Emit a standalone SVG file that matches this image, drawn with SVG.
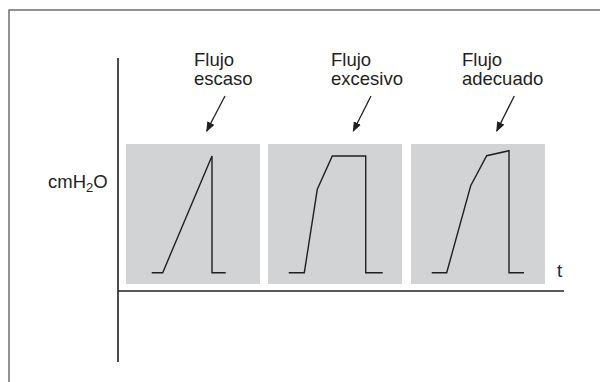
<svg xmlns="http://www.w3.org/2000/svg" width="600" height="382" viewBox="0 0 600 382">
<style>
.frame{fill:none;stroke:#6d6e70;stroke-width:1.5}
.axis{fill:none;stroke:#231f20;stroke-width:1.6}
.panel{fill:#d1d3d4}
.curve{fill:none;stroke:#231f20;stroke-width:1.4;stroke-linejoin:miter}
.lbl{font-family:"Liberation Sans",Arial,sans-serif;font-size:18.5px;fill:#231f20}
.arr{fill:none;stroke:#231f20;stroke-width:1.3}
</style>
<defs>
<marker id="ah" markerWidth="10" markerHeight="8" refX="9" refY="4" orient="auto" markerUnits="userSpaceOnUse">
<path d="M0,0 L10,4 L0,8 Z" fill="#231f20"/>
</marker>
</defs>
<rect width="600" height="382" fill="#fff"/>
<path class="frame" d="M9,382 V10 H600"/>
<g id="axes">
<path class="axis" d="M118,58 V362"/>
<path class="axis" d="M118,291 H564"/>
</g>
<g id="ylabel"><text class="lbl" x="48" y="188" font-size="19">cmH<tspan font-size="13" dy="4">2</tspan><tspan dy="-4">O</tspan></text></g>
<g id="tlabel"><text class="lbl" x="557" y="277">t</text></g>
<g id="panel-escaso">
<rect class="panel" x="126" y="144" width="134" height="140"/>
<path class="curve" d="M151.7,272.7 H162.7 L212,156 V272.7 H225.7"/>
<text class="lbl" x="194" y="66">Flujo</text>
<text class="lbl" x="194" y="85">escaso</text>
</g>
<g id="panel-excesivo">
<rect class="panel" x="268" y="144" width="134" height="140"/>
<path class="curve" d="M288.7,272.7 H304.3 L317.3,189.3 L332.3,156 H365.7 V272.7 H382.7"/>
<text class="lbl" x="331" y="66">Flujo</text>
<text class="lbl" x="331" y="85">excesivo</text>
</g>
<g id="panel-adecuado">
<rect class="panel" x="411" y="144" width="134" height="140"/>
<path class="curve" d="M431.7,272.7 H446.7 L470.7,185.7 L486.7,155.7 L509,150.7 V272.7 H524"/>
<text class="lbl" x="462" y="66">Flujo</text>
<text class="lbl" x="462" y="85">adecuado</text>
</g>
<g id="connectors">
<line class="arr" x1="225" y1="96" x2="206.7" y2="131" marker-end="url(#ah)"/>
<line class="arr" x1="371" y1="96" x2="353.3" y2="131" marker-end="url(#ah)"/>
<line class="arr" x1="514.3" y1="96" x2="496.7" y2="131" marker-end="url(#ah)"/>
</g>
</svg>
